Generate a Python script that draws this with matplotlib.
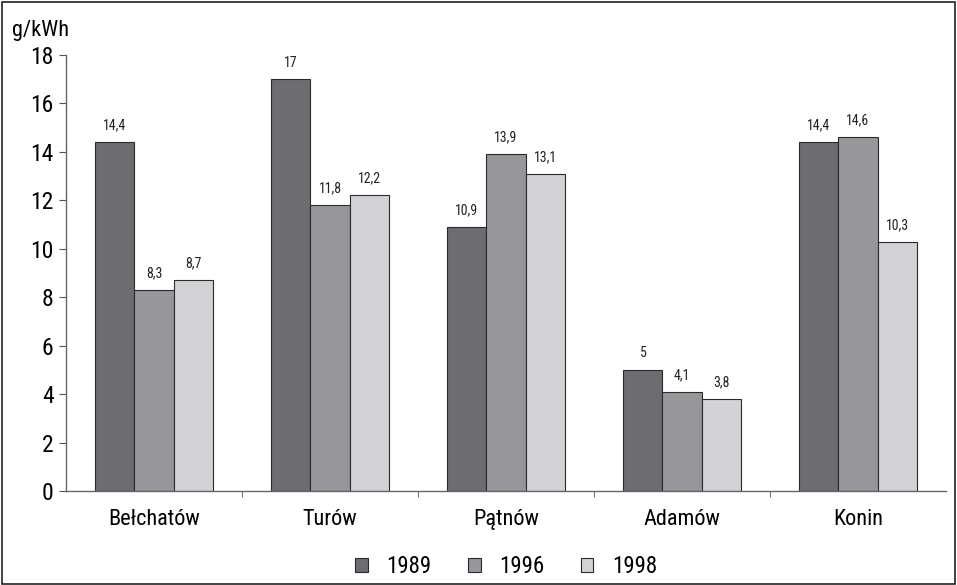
import matplotlib.pyplot as plt
import numpy as np
from matplotlib.patches import Rectangle
from matplotlib import font_manager

installed = {f.name for f in font_manager.fontManager.ttflist}
candidates = ['Liberation Sans Narrow', 'DejaVu Sans Condensed', 'Roboto Condensed',
              'Open Sans Condensed', 'Arial Narrow', 'Liberation Sans']
fam = next((c for c in candidates if c in installed), 'DejaVu Sans')
plt.rcParams['font.family'] = [fam, 'DejaVu Sans']

plants = ['Bełchatów', 'Turów', 'Pątnów', 'Adamów', 'Konin']
years = ['1989', '1996', '1998']
v1989 = [14.4, 17, 10.9, 5, 14.4]
v1996 = [8.3, 11.8, 13.9, 4.1, 14.6]
v1998 = [8.7, 12.2, 13.1, 3.8, 10.3]
labels1989 = ['14,4', '17', '10,9', '5', '14,4']
labels1996 = ['8,3', '11,8', '13,9', '4,1', '14,6']
labels1998 = ['8,7', '12,2', '13,1', '3,8', '10,3']

colors = ['#6c6c71', '#96969b', '#d3d3d7']

fig = plt.figure(figsize=(9.57, 5.85), dpi=100)
ax = fig.add_axes([0.069, 0.1607, 0.9195, 0.7453])

x = np.arange(len(plants))
w = 0.222
series = [(v1989, labels1989), (v1996, labels1996), (v1998, labels1998)]
for i, (vals, labs) in enumerate(series):
    pos = x + (i - 1) * w
    bars = ax.bar(pos, vals, w, color=colors[i], edgecolor='#2a2a2a', linewidth=0.8,
                  label=years[i], zorder=2)
    for b, lab in zip(bars, labs):
        ax.text(b.get_x() + b.get_width() / 2, b.get_height() + 0.4, lab,
                ha='center', va='bottom', fontsize=10, color='#222222')

ax.set_xlim(-0.5, len(plants) - 0.5)
ax.set_ylim(0, 18)
ax.set_yticks(range(0, 19, 2))
ax.tick_params(axis='y', labelsize=17, length=5, direction='out', color='#555555', pad=4)
ax.set_xticks(x)
ax.set_xticklabels(plants, fontsize=16)
ax.tick_params(axis='x', length=0, pad=13)
ax.set_xticks(np.arange(0.5, len(plants) - 0.5, 1), minor=True)
ax.tick_params(axis='x', which='minor', length=4, direction='out', color='#555555')

for s in ['top', 'right']:
    ax.spines[s].set_visible(False)
for s in ['left', 'bottom']:
    ax.spines[s].set_color('#666666')
    ax.spines[s].set_linewidth(1.0)

fig.text(0.013, 0.948, 'g/kWh', fontsize=16, ha='left', va='center')

leg = ax.legend(loc='upper center', bbox_to_anchor=(0.5, -0.099), ncol=3, frameon=False,
                fontsize=16.5, handlelength=0.55, handleheight=0.55, columnspacing=1.6,
                handletextpad=0.8)

fig.patches.append(Rectangle((0.002, 0.002), 0.996, 0.995, transform=fig.transFigure,
                             fill=False, edgecolor='#222222', linewidth=1.2))

fig.savefig('out.png', dpi=100)
